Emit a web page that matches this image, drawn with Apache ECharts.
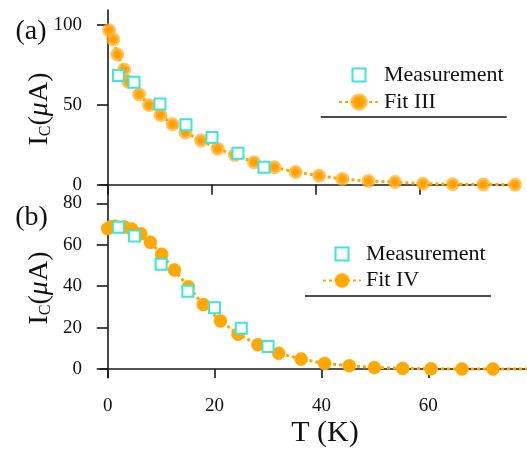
<!DOCTYPE html>
<html>
<head>
<meta charset="utf-8">
<script src="https://cdn.jsdelivr.net/npm/echarts@6/dist/echarts.min.js"></script>
<style>
html,body{margin:0;padding:0;background:#fff;}
#main{width:527px;height:452px;}
</style>
</head>
<body>
<div id="main"></div>
<script>
// ---- data ----
var measT = [2, 5, 10, 15, 20, 25, 30];
var measI = [68.4, 64.2, 50.6, 37.5, 29.6, 19.7, 10.9];

var fit3T = [0.2, 1.0, 1.8, 3.1, 3.9, 6.0, 7.9, 10.1, 12.4, 14.9, 17.9, 21.1, 24.4, 28.1, 32.0, 36.1, 40.6, 45.1, 50.1, 55.2, 60.6, 66.3, 72.2, 78.3];
var fit3I = [96.7, 90.9, 81.5, 72.1, 64.4, 56.5, 49.8, 43.6, 37.9, 32.7, 27.7, 22.5, 18.6, 14.0, 10.9, 7.9, 5.6, 3.6, 2.3, 1.7, 0.6, 0.25, 0.1, 0.0];

var fit4T = [0.0, 0.6, 1.4, 3.1, 4.5, 6.2, 8.0, 10.1, 12.5, 15.1, 17.9, 21.1, 24.4, 28.1, 32.0, 36.2, 40.6, 45.2, 49.9, 55.2, 60.5, 66.3, 72.1, 80.0];
var fit4I = [67.8, 68.7, 69.0, 68.6, 67.6, 65.3, 61.2, 55.4, 47.8, 39.7, 31.1, 23.2, 16.8, 11.7, 7.6, 4.8, 2.7, 1.6, 0.7, 0.3, 0.1, 0.0, 0.0, 0.0];

var xTicks = [0, 20, 40, 60];
var yTicksTop = [0, 50, 100];
var yTicksBot = [0, 20, 40, 60, 80];

function pairs(xs, ys) { return xs.map(function (x, i) { return [x, ys[i]]; }); }

var FONT = "'Liberation Serif', 'Times New Roman', 'DejaVu Serif', serif";
var AX = '#1a1a1a';
var ORANGE = '#FFA500';
var CYAN = '#3EE6D3';

var axisLine = { show: true, lineStyle: { color: AX, width: 1.6 } };

var chart = echarts.init(document.getElementById('main'), null, { renderer: 'canvas' });

var measStyle = {
  type: 'scatter', name: 'Measurement', symbol: 'rect', symbolSize: 11, z: 5,
  itemStyle: { color: '#fff', borderColor: CYAN, borderWidth: 2, opacity: 1 }
};
var fit3Item = { color: '#FFA000', borderColor: 'rgba(255,176,40,0.72)', borderWidth: 4 };
var fit4Item = { color: '#FFA800', borderColor: 'rgba(255,170,20,0.6)', borderWidth: 1 };

var legendText = { fontFamily: FONT, fontSize: 22, color: '#111', lineHeight: 22 };
var measLegendItem = { name: 'Measurement', icon: 'path://M0,0H10V10H0Z', itemStyle: { color: '#fff', borderColor: CYAN, borderWidth: 2 } };
function legendBox(left, top, w, h, item) {
  return { orient: 'vertical', left: left, top: top, padding: 0, itemWidth: w, itemHeight: h,
           selectedMode: false, textStyle: legendText, data: [item] };
}

chart.setOption({
  animation: false,
  backgroundColor: '#fff',
  grid: [
    { left: 100, width: 415, top: 10, height: 183, containLabel: false, outerBoundsMode: 'none' },
    { left: 100, width: 435.2, top: 193, height: 184.7, containLabel: false, outerBoundsMode: 'none' }
  ],
  xAxis: [
    {
      gridIndex: 0, type: 'value', min: -1.54, max: 78.3,
      axisLine: axisLine, splitLine: { show: false },
      axisTick: { show: true, inside: false, length: 10, lineStyle: { color: AX, width: 1.6 }, customValues: xTicks },
      axisLabel: { show: false, customValues: xTicks }
    },
    {
      gridIndex: 1, type: 'value', min: -1.44, max: 80,
      axisLine: axisLine, splitLine: { show: false },
      axisTick: { show: true, inside: false, length: 9, lineStyle: { color: AX, width: 1.6 }, customValues: xTicks },
      axisLabel: { show: true, customValues: xTicks, margin: 19, color: '#111', fontSize: 19, fontFamily: FONT }
    }
  ],
  yAxis: [
    {
      gridIndex: 0, type: 'value', min: -5.2, max: 109.4,
      axisLine: axisLine, splitLine: { show: false },
      axisTick: { show: true, inside: false, length: 11, lineStyle: { color: AX, width: 1.6 }, customValues: yTicksTop },
      axisLabel: { show: true, customValues: yTicksTop, margin: 18, color: '#111', fontSize: 19, fontFamily: FONT }
    },
    {
      gridIndex: 1, type: 'value', min: -4.2, max: 85,
      axisLine: axisLine, splitLine: { show: false },
      axisTick: { show: true, inside: false, length: 11, lineStyle: { color: AX, width: 1.6 }, customValues: yTicksBot },
      axisLabel: { show: true, customValues: yTicksBot, margin: 18, color: '#111', fontSize: 19, fontFamily: FONT }
    }
  ],
  legend: [
    legendBox(351.5, 64, 40, 13, measLegendItem),
    legendBox(338, 91, 40, 17, { name: 'Fit III', itemStyle: fit3Item }),
    legendBox(334.5, 243, 38, 13, measLegendItem),
    legendBox(322, 269.5, 38, 17, { name: 'Fit IV', itemStyle: { color: '#FFA800', borderColor: 'rgba(255,170,20,0.6)', borderWidth: 2 } })
  ],
  series: [
    {
      type: 'line', name: 'Fit III', xAxisIndex: 0, yAxisIndex: 0,
      data: pairs(fit3T, fit3I), showAllSymbol: true,
      symbol: 'circle', symbolSize: 10, z: 3,
      lineStyle: { color: ORANGE, width: 3, type: [3, 3] },
      itemStyle: fit3Item
    },
    Object.assign({}, measStyle, { xAxisIndex: 0, yAxisIndex: 0, data: pairs(measT, measI) }),
    {
      type: 'line', name: 'Fit IV', xAxisIndex: 1, yAxisIndex: 1,
      data: pairs(fit4T, fit4I), showAllSymbol: true,
      symbol: 'circle', symbolSize: 13, z: 3,
      lineStyle: { color: ORANGE, width: 3, type: [3, 3] },
      itemStyle: fit4Item
    },
    Object.assign({}, measStyle, { xAxisIndex: 1, yAxisIndex: 1, data: pairs(measT, measI) })
  ],
  graphic: [
    { type: 'line', shape: { x1: 320.7, y1: 117, x2: 506.7, y2: 117 }, style: { stroke: '#111', lineWidth: 1.6 } },
    { type: 'line', shape: { x1: 305, y1: 296, x2: 491, y2: 296 }, style: { stroke: '#111', lineWidth: 1.6 } },
    { type: 'text', x: 31, y: 32, style: { text: '(a)', font: '28px ' + FONT, fill: '#111', align: 'center', verticalAlign: 'middle' } },
    { type: 'text', x: 31.5, y: 218, style: { text: '(b)', font: '28px ' + FONT, fill: '#111', align: 'center', verticalAlign: 'middle' } },
    {
      type: 'text', x: 40, y: 109, rotation: Math.PI / 2,
      style: {
        text: '{i|I}{s|C}{i|(}{m|μ}{i|A)}', align: 'center', verticalAlign: 'middle', fill: '#111',
        rich: {
          i: { fontSize: 28, fontFamily: FONT, verticalAlign: 'bottom', lineHeight: 28, fill: '#111' },
          s: { fontSize: 16, fontFamily: FONT, verticalAlign: 'bottom', lineHeight: 16, fill: '#111' },
          m: { fontSize: 28, fontFamily: FONT, fontStyle: 'italic', verticalAlign: 'bottom', lineHeight: 28, fill: '#111' }
        }
      }
    },
    {
      type: 'text', x: 40, y: 288, rotation: Math.PI / 2,
      style: {
        text: '{i|I}{s|C}{i|(}{m|μ}{i|A)}', align: 'center', verticalAlign: 'middle', fill: '#111',
        rich: {
          i: { fontSize: 28, fontFamily: FONT, verticalAlign: 'bottom', lineHeight: 28, fill: '#111' },
          s: { fontSize: 16, fontFamily: FONT, verticalAlign: 'bottom', lineHeight: 16, fill: '#111' },
          m: { fontSize: 28, fontFamily: FONT, fontStyle: 'italic', verticalAlign: 'bottom', lineHeight: 28, fill: '#111' }
        }
      }
    },
    { type: 'text', x: 325, y: 433, style: { text: 'T (K)', font: '30px ' + FONT, fill: '#111', align: 'center', verticalAlign: 'middle' } }
  ]
});
</script>
</body>
</html>
